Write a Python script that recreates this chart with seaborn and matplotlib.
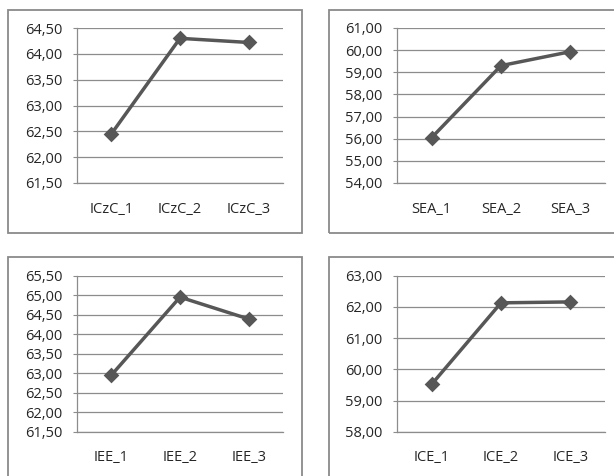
import matplotlib
matplotlib.use("Agg")
import matplotlib.pyplot as plt
from matplotlib.patches import Rectangle
from matplotlib.ticker import FixedLocator, FuncFormatter
import seaborn as sns

# ---- data ----
cats_iczc = ["ICzC_1", "ICzC_2", "ICzC_3"]
vals_iczc = [62.45, 64.30, 64.22]
ticks_iczc = [61.5, 62.0, 62.5, 63.0, 63.5, 64.0, 64.5]

cats_sea = ["SEA_1", "SEA_2", "SEA_3"]
vals_sea = [56.05, 59.30, 59.93]
ticks_sea = [54.0, 55.0, 56.0, 57.0, 58.0, 59.0, 60.0, 61.0]

cats_iee = ["IEE_1", "IEE_2", "IEE_3"]
vals_iee = [62.95, 64.95, 64.39]
ticks_iee = [61.5, 62.0, 62.5, 63.0, 63.5, 64.0, 64.5, 65.0, 65.5]

cats_ice = ["ICE_1", "ICE_2", "ICE_3"]
vals_ice = [59.52, 62.13, 62.16]
ticks_ice = [58.0, 59.0, 60.0, 61.0, 62.0, 63.0]

sns.set_style("white")
plt.rcParams["font.family"] = ["Open Sans", "DejaVu Sans"]

W, H = 614, 476
DPI = 100
fig = plt.figure(figsize=(W / DPI, H / DPI), dpi=DPI)
fig.patch.set_facecolor("white")

LINE = "#575757"
GRID = "#8c8c8c"
BOX = "#8a8a8a"
TEXT = "#262626"


def px_rect(x0, y0, x1, y1):
    return [x0 / W, 1 - y1 / H, (x1 - x0) / W, (y1 - y0) / H]


# outer chart boxes
for (x0, y0, x1, y1) in [(8, 10, 302, 233), (329, 10, 640, 233),
                         (8, 257, 302, 500), (329, 257, 640, 500)]:
    fig.patches.append(Rectangle((x0 / W, 1 - y1 / H), (x1 - x0) / W, (y1 - y0) / H,
                                 transform=fig.transFigure, fill=False,
                                 edgecolor=BOX, linewidth=1.3, zorder=0))

panels = [
    (px_rect(77, 28, 283, 183), cats_iczc, vals_iczc, ticks_iczc),
    (px_rect(397, 28, 605, 183), cats_sea, vals_sea, ticks_sea),
    (px_rect(77, 275.7, 283, 431.7), cats_iee, vals_iee, ticks_iee),
    (px_rect(397, 275.7, 605, 431.7), cats_ice, vals_ice, ticks_ice),
]

comma = FuncFormatter(lambda v, p: f"{v:.2f}".replace(".", ","))

for rect, cats, vals, ticks in panels:
    ax = fig.add_axes(rect)
    ax.set_facecolor("none")
    sns.pointplot(x=cats, y=vals, ax=ax, color=LINE, markers="D",
                  linestyles="-", linewidth=2.5, markersize=6.5, errorbar=None)
    ax.set_xlim(-0.5, len(cats) - 0.5)
    ax.set_ylim(ticks[0], ticks[-1])
    ax.yaxis.set_major_locator(FixedLocator(ticks))
    ax.yaxis.set_major_formatter(comma)
    ax.yaxis.grid(True, color=GRID, linewidth=0.9)
    ax.xaxis.grid(False)
    ax.set_axisbelow(True)
    ax.set_xticks(range(len(cats)))
    ax.set_xticklabels(cats)
    ax.set_xticks([i - 0.5 for i in range(len(cats) + 1)], minor=True)
    ax.tick_params(axis="x", which="major", length=0, pad=13.5, labelsize=10.5, labelcolor=TEXT)
    ax.tick_params(axis="x", which="minor", length=3.5, width=0.8, color=GRID, direction="out")
    ax.tick_params(axis="y", which="major", length=3, width=0.8, color=GRID, direction="out",
                   pad=7.5, labelsize=10.5, labelcolor=TEXT, left=True)
    for s in ["top", "right"]:
        ax.spines[s].set_visible(False)
    for s in ["left", "bottom"]:
        ax.spines[s].set_visible(True)
        ax.spines[s].set_color(GRID)
        ax.spines[s].set_linewidth(0.9)
    ax.set_xlabel("")
    ax.set_ylabel("")

fig.savefig("out.png", dpi=DPI, facecolor="white")
